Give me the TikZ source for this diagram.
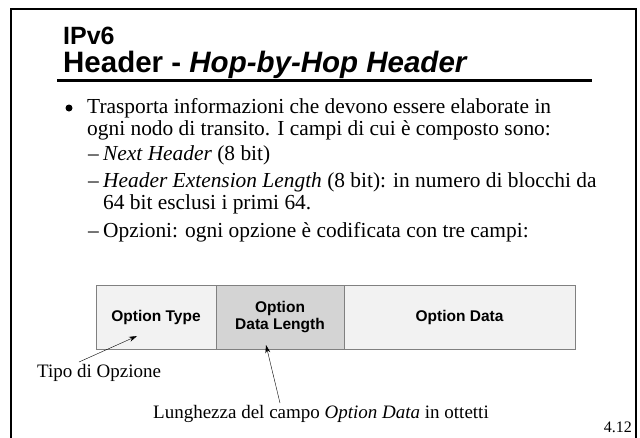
\documentclass[tikz,border=0pt]{standalone}
\usepackage{fontspec}
\setmainfont{Liberation Serif}
\setsansfont{Liberation Sans}
\usetikzlibrary{arrows.meta}
\definecolor{fieldlight}{gray}{0.95}
\definecolor{fielddark}{gray}{0.83}
\newcommand{\field}[5]{\node[fieldbox,fill=#5,minimum width=#3pt](#1) at (#2,317) {#4};}
\newcommand{\pointer}[2]{\draw[-{Stealth[length=8pt,width=5pt]}] (#1) -- (#2);}
\tikzset{
  fieldbox/.style={draw=black!50,line width=1pt,minimum height=64pt,inner sep=0pt,align=center,
    font=\sffamily\bfseries\fontsize{15.5}{17.5}\selectfont},
  line/.style={anchor=base west,inner sep=0pt,font=\fontsize{21.4}{22}\selectfont},
  label/.style={anchor=base west,inner sep=0pt,font=\fontsize{19}{20}\selectfont}
}
\begin{document}
\begin{tikzpicture}[x=1pt,y=-1pt]
			\useasboundingbox (0,0) rectangle (640,437);
			\draw[line width=2.5pt] (11,445) -- (11,9) -- (636,9) -- (636,445);
			
			% titolo
			\node[anchor=base west,inner sep=0pt,font=\sffamily\bfseries\fontsize{25}{27}\selectfont](t1) at (63,44) {IPv6};
			\node[anchor=base west,inner sep=0pt,font=\sffamily\bfseries\fontsize{29.5}{32}\selectfont](t2) at (63,72) {Header - \textit{Hop-by-Hop Header}};
			\draw[line width=3pt] (57,80) -- (592,80);
			
			% testo
			\node[circle,fill,inner sep=0pt,minimum size=7pt](b) at (69,108) {};
			\node[line](l1) at (87,113) {Trasporta informazioni che devono essere elaborate in};
			\node[line](l2) at (87,135) {ogni nodo di transito. I campi di cui è composto sono:};
			\node[line](d3) at (88,160) {–};
			\node[line](l3) at (103,160) {\textit{Next Header} (8 bit)};
			\node[line](d4) at (88,187) {–};
			\node[line](l4) at (103,187) {\textit{Header Extension Length} (8 bit): in numero di blocchi da};
			\node[line](l5) at (103,209) {64 bit esclusi i primi 64.};
			\node[line](d6) at (88,237) {–};
			\node[line](l6) at (103,237) {Opzioni: ogni opzione è codificata con tre campi:};
			
			% campi
			\field{type}{156}{120}{Option Type}{fieldlight}
			\field{len}{280}{128}{Option\\Data Length}{fielddark}
			\field{data}{459.5}{231}{Option Data}{fieldlight}
			
			% etichette
			\node[label](tipo) at (37,377) {Tipo di Opzione};
			\node[label](lung) at (153,418) {Lunghezza del campo \textit{Option Data} in ottetti};
			\node[anchor=base east,inner sep=0pt,font=\fontsize{16}{18}\selectfont](num) at (632,432) {4.12};
			\coordinate (tipoend) at (79,362);
			\coordinate (typept) at (137,336);
			\coordinate (lungend) at (280,403);
			\coordinate (lenpt) at (266,345);
			
			\pointer{tipoend}{typept}
			\pointer{lungend}{lenpt}
		\end{tikzpicture}
\end{document}
